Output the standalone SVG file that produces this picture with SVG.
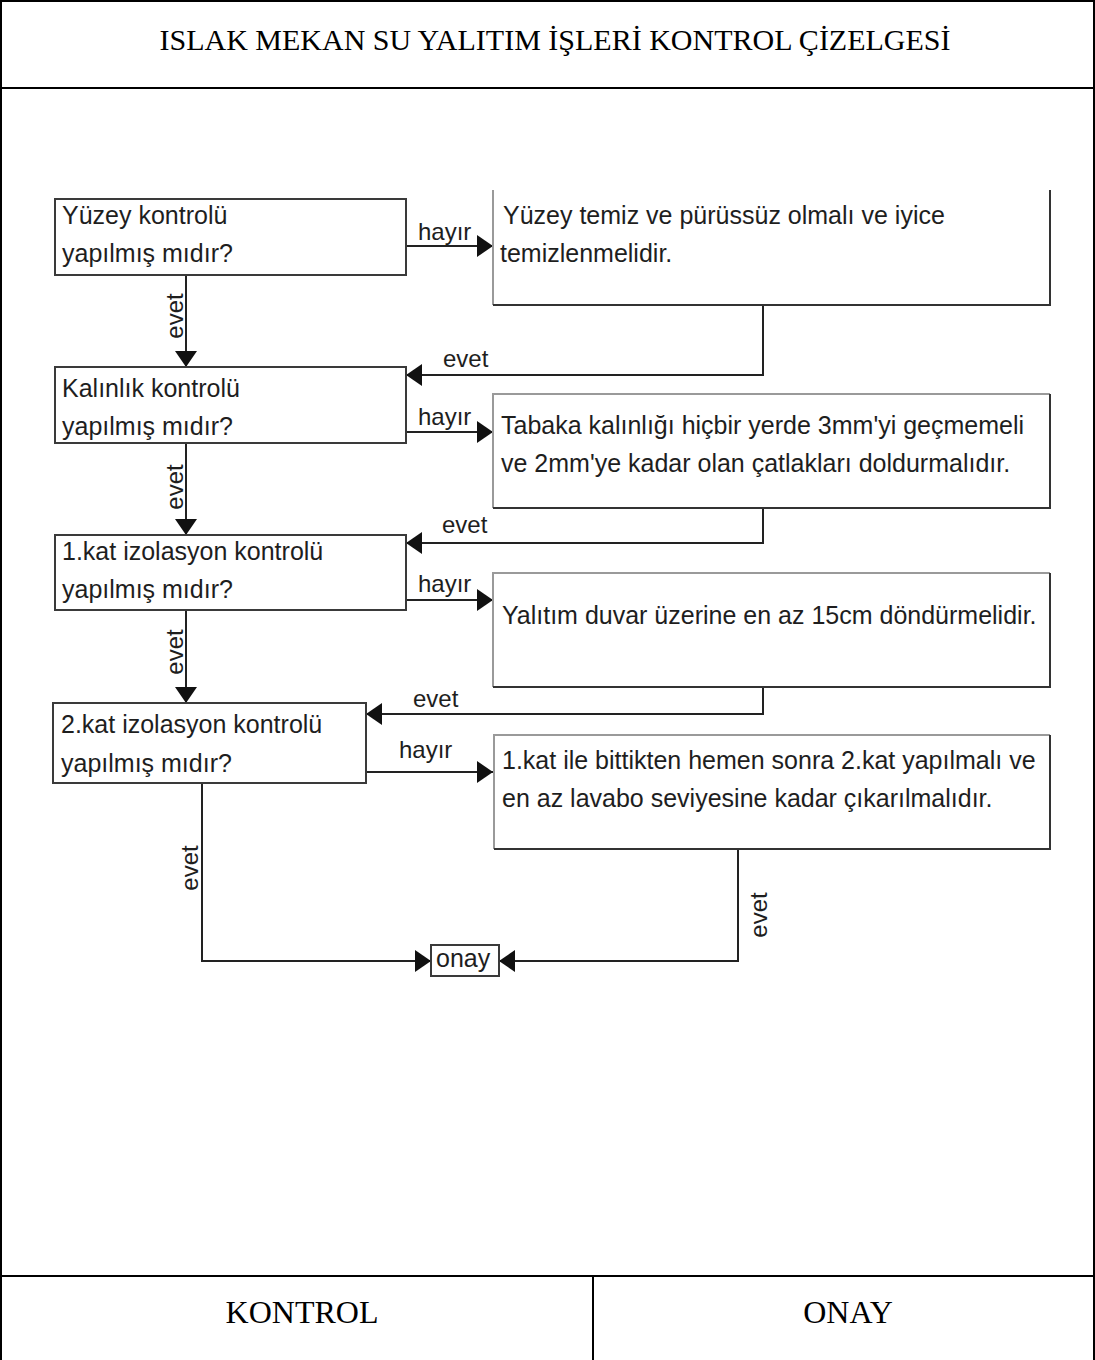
<svg xmlns="http://www.w3.org/2000/svg" width="1095" height="1360" viewBox="0 0 1095 1360">
<style>
.frame{fill:none;stroke:#000;stroke-width:2}
.q{fill:#fff;stroke:#3a3a3a;stroke-width:2}
.a{fill:#fff;stroke:#9a9a9a;stroke-width:2}
.adark{fill:none;stroke:#333;stroke-width:2}
.t{font-family:"Liberation Sans",Arial,sans-serif;font-size:25px;fill:#1e1e1e}
.lbl{font-family:"Liberation Sans",Arial,sans-serif;font-size:24px;fill:#1e1e1e}
.hd{font-family:"Liberation Serif","Times New Roman",serif;font-size:30px;fill:#000}
.ft{font-family:"Liberation Serif","Times New Roman",serif;font-size:32px;fill:#000}
.c{fill:none;stroke:#222;stroke-width:2}
</style>
<defs>
<marker id="ah" markerUnits="userSpaceOnUse" markerWidth="16" markerHeight="22" refX="16" refY="11" orient="auto">
<path d="M0,0 L16,11 L0,22 Z" fill="#111"/>
</marker>
</defs>
<rect width="1095" height="1360" fill="#fff"/>
<g id="frame">
<path class="frame" d="M1,1360 V1 H1094 V1360"/>
<line class="frame" x1="1" y1="88" x2="1094" y2="88"/>
<line class="frame" x1="1" y1="1276" x2="1094" y2="1276"/>
<line class="frame" x1="593" y1="1276" x2="593" y2="1360"/>
<text class="hd" x="555" y="50" text-anchor="middle">ISLAK MEKAN SU YALITIM İŞLERİ KONTROL ÇİZELGESİ</text>
<text class="ft" x="302" y="1323" text-anchor="middle">KONTROL</text>
<text class="ft" x="848" y="1323" text-anchor="middle">ONAY</text>
</g>
<g id="connectors">
<path class="c" d="M406,246 H493" marker-end="url(#ah)"/>
<path class="c" d="M186,275 V367" marker-end="url(#ah)"/>
<path class="c" d="M763,305 V375 H406" marker-end="url(#ah)"/>
<path class="c" d="M406,432 H493" marker-end="url(#ah)"/>
<path class="c" d="M186,443 V535" marker-end="url(#ah)"/>
<path class="c" d="M763,508 V543 H406" marker-end="url(#ah)"/>
<path class="c" d="M406,600 H493" marker-end="url(#ah)"/>
<path class="c" d="M186,610 V703" marker-end="url(#ah)"/>
<path class="c" d="M763,687 V714 H366" marker-end="url(#ah)"/>
<path class="c" d="M366,772 H493" marker-end="url(#ah)"/>
<path class="c" d="M202,783 V961 H431" marker-end="url(#ah)"/>
<path class="c" d="M738,849 V961 H499" marker-end="url(#ah)"/>
<text class="lbl" x="418" y="240">hayır</text>
<text class="lbl" x="418" y="425">hayır</text>
<text class="lbl" x="418" y="592">hayır</text>
<text class="lbl" x="399" y="758">hayır</text>
<text class="lbl" x="443" y="367">evet</text>
<text class="lbl" x="442" y="533">evet</text>
<text class="lbl" x="413" y="707">evet</text>
<text class="lbl" transform="translate(175,316) rotate(-90)" y="8" text-anchor="middle">evet</text>
<text class="lbl" transform="translate(175,487) rotate(-90)" y="8" text-anchor="middle">evet</text>
<text class="lbl" transform="translate(175,652) rotate(-90)" y="8" text-anchor="middle">evet</text>
<text class="lbl" transform="translate(190,868) rotate(-90)" y="8" text-anchor="middle">evet</text>
<text class="lbl" transform="translate(759,915) rotate(-90)" y="8" text-anchor="middle">evet</text>
</g>
<g id="q1">
<rect class="q" x="55" y="199" width="351" height="76"/>
<text class="t" x="62" y="224">Yüzey kontrolü</text>
<text class="t" x="62" y="262">yapılmış mıdır?</text>
</g>
<g id="a1">
<path class="a" d="M493,190 V305"/>
<path class="adark" d="M493,305 H1050 V190"/>
<text class="t" x="503" y="224">Yüzey temiz ve pürüssüz olmalı ve iyice</text>
<text class="t" x="500" y="262">temizlenmelidir.</text>
</g>
<g id="q2">
<rect class="q" x="55" y="367" width="351" height="76"/>
<text class="t" x="62" y="397">Kalınlık kontrolü</text>
<text class="t" x="62" y="435">yapılmış mıdır?</text>
</g>
<g id="a2">
<path class="a" d="M493,508 V394 H1050"/>
<path class="adark" d="M493,508 H1050 V394"/>
<text class="t" x="501" y="434">Tabaka kalınlığı hiçbir yerde 3mm'yi geçmemeli</text>
<text class="t" x="501" y="472">ve 2mm'ye kadar olan çatlakları doldurmalıdır.</text>
</g>
<g id="q3">
<rect class="q" x="55" y="535" width="351" height="75"/>
<text class="t" x="62" y="560">1.kat izolasyon kontrolü</text>
<text class="t" x="62" y="598">yapılmış mıdır?</text>
</g>
<g id="a3">
<path class="a" d="M493,687 V573 H1050"/>
<path class="adark" d="M493,687 H1050 V573"/>
<text class="t" x="502" y="624">Yalıtım duvar üzerine en az 15cm döndürmelidir.</text>
</g>
<g id="q4">
<rect class="q" x="53" y="703" width="313" height="80"/>
<text class="t" x="61" y="733">2.kat izolasyon kontrolü</text>
<text class="t" x="61" y="772">yapılmış mıdır?</text>
</g>
<g id="a4">
<path class="a" d="M494,849 V735 H1050"/>
<path class="adark" d="M494,849 H1050 V735"/>
<text class="t" x="502" y="769">1.kat ile bittikten hemen sonra 2.kat yapılmalı ve</text>
<text class="t" x="502" y="807">en az lavabo seviyesine kadar çıkarılmalıdır.</text>
</g>
<g id="onay">
<rect class="q" x="431" y="945" width="68" height="31"/>
<text class="t" x="436" y="967">onay</text>
</g>
</svg>
